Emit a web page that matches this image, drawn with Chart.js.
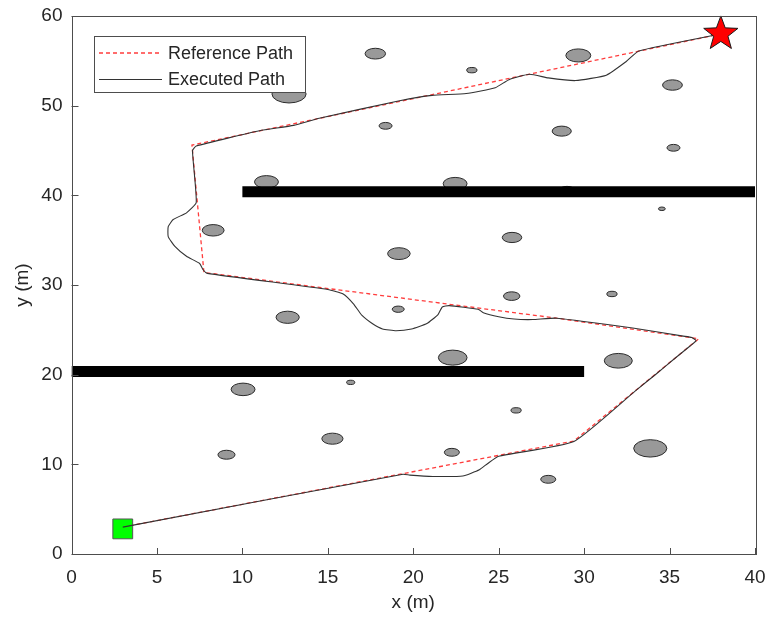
<!DOCTYPE html>
<html>
<head>
<meta charset="utf-8">
<script src="https://cdn.jsdelivr.net/npm/chart.js@4.4.1/dist/chart.umd.min.js"></script>
<style>
  html, body { margin: 0; padding: 0; background: #fff; }
  #wrap { width: 770px; height: 619px; }
</style>
</head>
<body>
<div id="wrap"><canvas id="pathChart" width="770" height="619"></canvas></div>
<script>
// reference path waypoints (m)
const refX = [3, 29.4, 36.7, 28.4, 7.75, 7.05, 38];
const refY = [3, 12.6, 24.0, 26.3, 31.4, 45.6, 58];

// executed path (m)
const exeX = [3, 19.4, 19.8, 21.15, 22.9, 23.87, 24.36, 25.0, 29.4, 33.0, 34.2, 35.3, 36.2, 36.55, 36.3, 35.8, 32.84,
  28.4, 27.0, 25.9, 25.0, 24.1, 23.8, 22.1, 21.7, 21.45, 20.8, 19.9, 19.0, 18.2, 17.6, 17.0, 16.5, 15.9, 15.0,
  7.95, 7.7, 7.5, 6.73, 6.05, 5.66, 5.66, 5.95, 6.73, 7.3, 7.08, 7.3,
  11.0, 13.0, 14.5, 19.2, 21.1, 23.1, 24.8, 25.6, 26.8, 27.9, 29.5, 31.3, 32.45, 33.2, 38];
const exeY = [3, 8.9, 8.8, 8.65, 8.7, 9.4, 10.1, 10.9, 12.55, 18.2, 20.05, 21.8, 23.2, 23.8, 24.15, 24.3, 25.2,
  26.3, 26.15, 26.2, 26.45, 26.9, 27.3, 27.7, 27.55, 26.7, 25.7, 25.1, 24.9, 25.1, 25.7, 26.6, 27.9, 29.0, 29.5,
  31.3, 31.7, 32.4, 33.2, 34.3, 35.4, 36.5, 37.3, 38.05, 39.2, 45.0, 45.5,
  47.2, 47.8, 48.6, 50.55, 51.15, 51.35, 52.0, 52.9, 53.5, 53.1, 52.8, 53.4, 54.9, 56.1, 58];

// circular obstacles: centre and radius (m)
const obsX = [17.78, 12.73, 18.38, 11.41, 23.43, 29.66, 35.17, 28.69, 35.23, 22.45, 29.0, 34.55, 8.29, 19.16, 25.78,
  12.65, 19.12, 25.76, 31.63, 22.31, 32.0, 10.04, 16.34, 15.27, 9.07, 26.02, 22.26, 27.9, 33.87];
const obsY = [55.8, 51.3, 47.75, 41.5, 53.96, 55.6, 52.3, 47.16, 45.3, 41.3, 40.5, 38.5, 36.1, 33.5, 35.3,
  26.4, 27.3, 28.76, 29.0, 21.9, 21.55, 18.36, 19.14, 12.86, 11.07, 16.02, 11.34, 8.33, 11.78];
const obsR = [0.6, 1.0, 0.38, 0.7, 0.3, 0.73, 0.58, 0.56, 0.38, 0.7, 0.5, 0.2, 0.64, 0.66, 0.57,
  0.68, 0.35, 0.48, 0.3, 0.84, 0.82, 0.7, 0.24, 0.62, 0.5, 0.3, 0.44, 0.44, 0.97];

// walls: [x0, x1] at height y
const wallX = [[10, 40], [0, 30]];
const wallY = [40.4, 20.35];

const startPt = [3, 2.8];
const goalPt = [38, 58];

const xTicks = [0, 5, 10, 15, 20, 25, 30, 35, 40];
const yTicks = [0, 10, 20, 30, 40, 50, 60];
const legendLabels = ['Reference Path', 'Executed Path'];

const FONT = '"Liberation Sans", Arial, Helvetica, sans-serif';
const AXIS = '#4d4d4d';
const TXT = '#262626';
const RED = 'rgb(255,60,60)';

const toPts = (xs, ys) => xs.map((v, i) => ({ x: v, y: ys[i] }));

const scenePlugin = {
  id: 'scene',
  beforeDatasetsDraw(chart) {
    const { ctx, scales: { x, y } } = chart;
    ctx.save();
    ctx.fillStyle = '#999999';
    ctx.strokeStyle = '#2b2b2b';
    ctx.lineWidth = 1;
    obsX.forEach((ox, i) => {
      const cx = x.getPixelForValue(ox);
      const cy = y.getPixelForValue(obsY[i]);
      const rx = x.getPixelForValue(ox + obsR[i]) - cx;
      const ry = cy - y.getPixelForValue(obsY[i] + obsR[i]);
      ctx.beginPath();
      ctx.ellipse(cx, cy, rx, ry, 0, 0, Math.PI * 2);
      ctx.fill();
      ctx.stroke();
    });
    ctx.restore();
  },
  afterDatasetsDraw(chart) {
    const { ctx, scales: { x, y } } = chart;
    // goal star
    const cx = x.getPixelForValue(goalPt[0]);
    const cy = y.getPixelForValue(goalPt[1]);
    const R = 18, r = 7.5;
    ctx.save();
    ctx.beginPath();
    for (let k = 0; k < 10; k++) {
      const a = -Math.PI / 2 + k * Math.PI / 5;
      const rr = k % 2 === 0 ? R : r;
      const px = cx + rr * Math.cos(a), py = cy + rr * Math.sin(a);
      if (k === 0) ctx.moveTo(px, py); else ctx.lineTo(px, py);
    }
    ctx.closePath();
    ctx.fillStyle = '#ff0000';
    ctx.fill();
    ctx.strokeStyle = '#1a1a1a';
    ctx.lineWidth = 1;
    ctx.stroke();
    ctx.restore();
  },
  afterDraw(chart) {
    const { ctx, chartArea: a, scales: { x, y } } = chart;
    ctx.save();
    ctx.strokeStyle = AXIS;
    ctx.lineWidth = 1;
    ctx.strokeRect(Math.round(a.left) + 0.5, Math.round(a.top) + 0.5,
      Math.round(a.right - a.left), Math.round(a.bottom - a.top));
    ctx.beginPath();
    xTicks.forEach(v => {
      const px = Math.round(x.getPixelForValue(v)) + 0.5;
      ctx.moveTo(px, a.bottom);
      ctx.lineTo(px, a.bottom - 6);
    });
    yTicks.forEach(v => {
      const py = Math.round(y.getPixelForValue(v)) + 0.5;
      ctx.moveTo(a.left, py);
      ctx.lineTo(a.left + 7, py);
    });
    ctx.stroke();

    // legend box
    const lx = 94, ly = 36, lw = 211, lh = 56;
    ctx.fillStyle = '#ffffff';
    ctx.fillRect(lx, ly, lw, lh);
    ctx.strokeStyle = AXIS;
    ctx.strokeRect(lx + 0.5, ly + 0.5, lw, lh);
    const rows = [53, 79];
    ctx.lineWidth = 1.5;
    ctx.strokeStyle = RED;
    ctx.setLineDash([4, 3]);
    ctx.beginPath(); ctx.moveTo(99, rows[0]); ctx.lineTo(162, rows[0]); ctx.stroke();
    ctx.setLineDash([]);
    ctx.lineWidth = 1.2;
    ctx.strokeStyle = '#333333';
    ctx.beginPath(); ctx.moveTo(99, rows[1] + 0.5); ctx.lineTo(162, rows[1] + 0.5); ctx.stroke();
    ctx.fillStyle = TXT;
    ctx.font = '18px ' + FONT;
    ctx.textBaseline = 'middle';
    ctx.textAlign = 'left';
    legendLabels.forEach((t, i) => ctx.fillText(t, 168, rows[i] + 1));
    ctx.restore();
  }
};

const datasets = [];
wallX.forEach((wx, i) => {
  datasets.push({
    label: 'wall' + i,
    data: toPts(wx, [wallY[i], wallY[i]]),
    borderColor: '#000000',
    borderWidth: 11,
    pointRadius: 0,
    showLine: true,
    order: 6
  });
});
datasets.push({
  label: legendLabels[0],
  data: toPts(refX, refY),
  borderColor: RED,
  borderWidth: 1.3,
  borderDash: [4, 3],
  pointRadius: 0,
  showLine: true,
  order: 4
});
datasets.push({
  label: 'start',
  data: [{ x: startPt[0], y: startPt[1] }],
  pointStyle: 'rect',
  pointRadius: 14,
  backgroundColor: '#00ff00',
  borderColor: '#555555',
  borderWidth: 1,
  order: 3
});
datasets.push({
  label: legendLabels[1],
  data: toPts(exeX, exeY),
  borderColor: '#333333',
  borderWidth: 1.1,
  pointRadius: 0,
  showLine: true,
  tension: 0.15,
  order: 2
});

new Chart(document.getElementById('pathChart'), {
  type: 'scatter',
  data: { datasets },
  plugins: [scenePlugin],
  options: {
    responsive: false,
    animation: false,
    layout: { padding: { left: 0, right: 14, top: 16, bottom: 0 } },
    plugins: { legend: { display: false }, tooltip: { enabled: false } },
    scales: {
      x: {
        type: 'linear',
        min: 0, max: 40,
        afterFit: s => { s.height = 65; s.paddingLeft = 0; s.paddingRight = 0; },
        afterBuildTicks: s => { s.ticks = xTicks.map(v => ({ value: v })); },
        grid: { display: false, drawTicks: false },
        border: { display: false },
        ticks: { color: TXT, font: { family: FONT, size: 19 }, padding: 12, maxRotation: 0 },
        title: { display: true, text: 'x (m)', color: TXT, font: { family: FONT, size: 19 }, padding: { top: 0, bottom: 5 } }
      },
      y: {
        type: 'linear',
        min: 0, max: 60,
        afterFit: s => { s.width = 71.5; s.paddingTop = 0; s.paddingBottom = 0; },
        afterBuildTicks: s => { s.ticks = yTicks.map(v => ({ value: v })); },
        grid: { display: false, drawTicks: false },
        border: { display: false },
        ticks: { color: TXT, font: { family: FONT, size: 19 }, padding: 9 },
        title: { display: true, text: 'y (m)', color: TXT, font: { family: FONT, size: 19 }, padding: { top: 11, bottom: 0 } }
      }
    }
  }
});
</script>
</body>
</html>
